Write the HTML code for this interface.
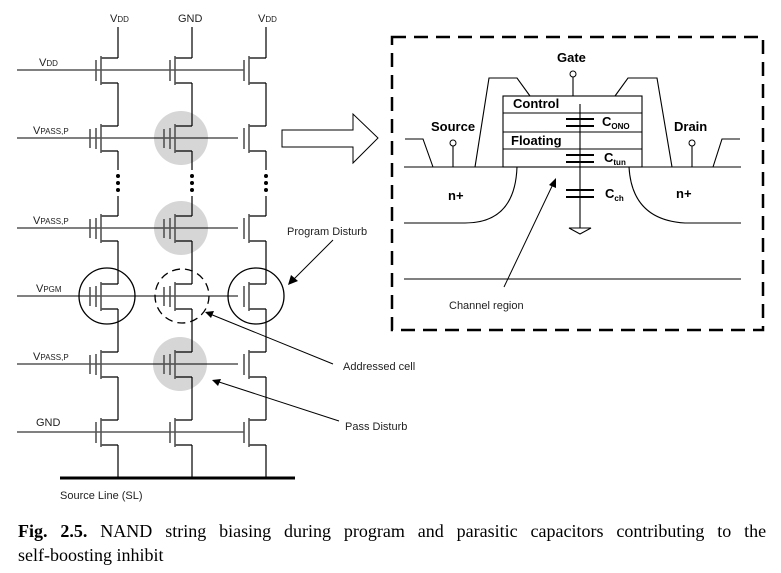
<!DOCTYPE html>
<html><head><meta charset="utf-8"><style>
body{margin:0;background:#fff}
svg{display:block}
.t{font-family:"Liberation Sans",sans-serif;font-size:11px;fill:#222}
.b{font-family:"Liberation Sans",sans-serif;font-size:13px;font-weight:bold;fill:#000}
.cap{font-family:"Liberation Serif",serif;font-size:18px;fill:#000}
</style></head><body>
<svg width="781" height="573" viewBox="0 0 781 573" xmlns="http://www.w3.org/2000/svg">
<defs>
<g id="tr" fill="none">
<path d="M-17 -12H0M-17 13H0" stroke="#000" stroke-width="1.2"/>
<line x1="-17" y1="-14" x2="-17" y2="15" stroke="#555" stroke-width="1.6"/>
<line x1="-22" y1="-10" x2="-22" y2="11" stroke="#555" stroke-width="1.6"/>
</g>
<g id="trt">
<use href="#tr"/>
<line x1="-28" y1="-9" x2="-28" y2="10" stroke="#555" stroke-width="1.6"/>
</g>
</defs>
<g fill="#d6d6d6">
<circle cx="181" cy="138" r="27"/><circle cx="181" cy="228" r="27"/><circle cx="180" cy="364" r="27"/>
</g>
<g stroke="#000" stroke-width="1.1">
<line x1="17" y1="70" x2="244" y2="70"/>
<line x1="17" y1="138" x2="238" y2="138"/>
<line x1="17" y1="228" x2="238" y2="228"/>
<line x1="17" y1="296" x2="238" y2="296"/>
<line x1="17" y1="364" x2="238" y2="364"/>
<line x1="17" y1="432" x2="244" y2="432"/>
</g>
<g stroke="#000" stroke-width="1.2" fill="none">
<path d="M118 27V58M118 83V126M118 151V170M118 196V216M118 241V284M118 309V352M118 377V420M118 445V478"/>
<path d="M192 27V58M192 83V126M192 151V170M192 196V216M192 241V284M192 309V352M192 377V420M192 445V478"/>
<path d="M266 27V58M266 83V126M266 151V170M266 196V216M266 241V284M266 309V352M266 377V420M266 445V478"/>
</g>
<g fill="#000">
<circle cx="118" cy="176" r="2"/><circle cx="118" cy="183" r="2"/><circle cx="118" cy="190" r="2"/>
<circle cx="192" cy="176" r="2"/><circle cx="192" cy="183" r="2"/><circle cx="192" cy="190" r="2"/>
<circle cx="266" cy="176" r="2"/><circle cx="266" cy="183" r="2"/><circle cx="266" cy="190" r="2"/>
</g>
<use href="#tr" x="118" y="70"/><use href="#tr" x="192" y="70"/><use href="#tr" x="266" y="70"/>
<use href="#trt" x="118" y="138"/><use href="#trt" x="192" y="138"/><use href="#tr" x="266" y="138"/>
<use href="#trt" x="118" y="228"/><use href="#trt" x="192" y="228"/><use href="#tr" x="266" y="228"/>
<use href="#trt" x="118" y="296"/><use href="#trt" x="192" y="296"/><use href="#tr" x="266" y="296"/>
<use href="#trt" x="118" y="364"/><use href="#trt" x="192" y="364"/><use href="#tr" x="266" y="364"/>
<use href="#tr" x="118" y="432"/><use href="#tr" x="192" y="432"/><use href="#tr" x="266" y="432"/>
<line x1="60" y1="478" x2="295" y2="478" stroke="#000" stroke-width="3"/>
<g fill="none" stroke="#000" stroke-width="1.3">
<circle cx="107" cy="296" r="28"/><circle cx="256" cy="296" r="28"/>
<circle cx="182" cy="296" r="27" stroke-dasharray="8,5"/>
</g>
<text class="t" x="110" y="22" font-size="12">V<tspan font-size="8">DD</tspan></text>
<text class="t" x="178" y="22" font-size="12">GND</text>
<text class="t" x="258" y="22" font-size="12">V<tspan font-size="8">DD</tspan></text>
<text class="t" x="39" y="66" font-size="12">V<tspan font-size="8">DD</tspan></text>
<text class="t" x="33" y="134" font-size="12">V<tspan font-size="8">PASS,P</tspan></text>
<text class="t" x="33" y="224" font-size="12">V<tspan font-size="8">PASS,P</tspan></text>
<text class="t" x="36" y="292" font-size="12">V<tspan font-size="8">PGM</tspan></text>
<text class="t" x="33" y="360" font-size="12">V<tspan font-size="8">PASS,P</tspan></text>
<text class="t" x="36" y="426" font-size="12">GND</text>
<text class="t" x="60" y="499">Source Line (SL)</text>
<text class="t" x="287" y="235">Program Disturb</text>
<text class="t" x="343" y="370">Addressed cell</text>
<text class="t" x="345" y="430">Pass Disturb</text>
<g stroke="#000" stroke-width="1">
<line x1="333" y1="240" x2="292" y2="281"/>
<line x1="333" y1="364" x2="210" y2="314"/>
<line x1="339" y1="421" x2="216" y2="381"/>
<line x1="504" y1="287" x2="554" y2="182"/>
</g>
<g fill="#000">
<polygon points="288,285 291,275 298,281"/>
<polygon points="205,312 214,311 211,318"/>
<polygon points="212,380 221,379 218,386"/>
<polygon points="556,178 556,188 549,185"/>
</g>
<polygon points="282,130 353,130 353,114 378,138 353,163 353,147 282,147" fill="#fff" stroke="#000" stroke-width="1"/>
<rect x="392" y="37" width="371" height="293" fill="none" stroke="#000" stroke-width="2.5" stroke-dasharray="14,8"/>
<g stroke="#000" stroke-width="1.1" fill="none">
<line x1="404" y1="167" x2="741" y2="167"/>
<line x1="404" y1="279" x2="741" y2="279"/>
<path d="M404 223H465Q515 223 517 167"/>
<path d="M741 223H685Q632 220 629 167"/>
<path d="M405 139H423L433 167"/>
<path d="M475 167L489 78H517L530 96"/>
<path d="M615 96L628 78H657L672 167"/>
<path d="M713 167L722 139H740"/>
<rect x="503" y="96" width="139" height="71"/>
<path d="M503 113H642M503 132H642M503 149H642"/>
<path d="M573 96V77M453 167V146M692 167V146"/>
<path d="M580 104V228"/>
</g>
<g stroke="#000" stroke-width="2">
<path d="M566 119H594M566 126H594M566 155H594M566 162H594M566 190H594M566 197H594"/>
</g>
<polygon points="569,228 591,228 580,234" fill="#fff" stroke="#000"/>
<g fill="#fff" stroke="#000"><circle cx="573" cy="74" r="3"/><circle cx="453" cy="143" r="3"/><circle cx="692" cy="143" r="3"/></g>
<text class="b" x="557" y="62">Gate</text>
<text class="b" x="431" y="131">Source</text>
<text class="b" x="674" y="131">Drain</text>
<text class="b" x="513" y="108">Control</text>
<text class="b" x="511" y="145">Floating</text>
<text class="b" x="448" y="200">n+</text>
<text class="b" x="676" y="198">n+</text>
<text class="b" x="602" y="126">C<tspan font-size="8" dy="3">ONO</tspan></text>
<text class="b" x="604" y="162">C<tspan font-size="8" dy="3">tun</tspan></text>
<text class="b" x="605" y="198">C<tspan font-size="8" dy="3">ch</tspan></text>
<text class="t" x="449" y="309" font-size="13">Channel region</text>
<text class="cap" x="18" y="537" style="word-spacing:8.4px"><tspan font-weight="bold">Fig. 2.5.</tspan> NAND string biasing during program and parasitic capacitors contributing to the</text>
<text class="cap" x="18" y="561">self-boosting inhibit</text>
</svg>
</body></html>
